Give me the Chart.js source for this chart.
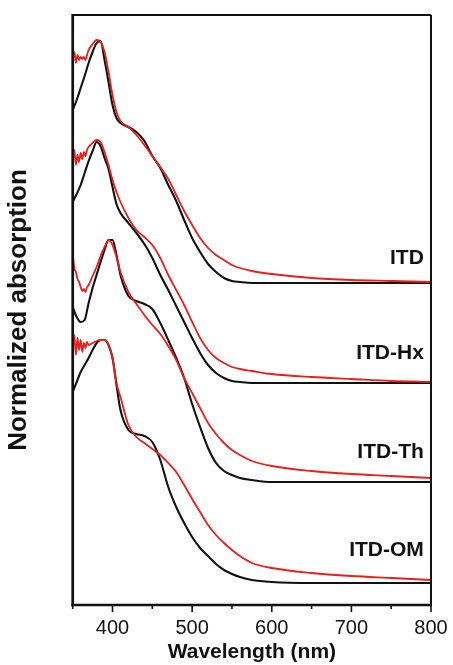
<!DOCTYPE html>
<html>
<head>
<meta charset="utf-8">
<script src="https://cdn.jsdelivr.net/npm/chart.js@4/dist/chart.umd.min.js"></script>
<style>
  html, body { margin: 0; padding: 0; background: #ffffff; }
  #wrap { width: 453px; height: 665px; }
</style>
</head>
<body>
<div id="wrap"><canvas id="c" width="453" height="665"></canvas></div>
<script>
// ---- Data ----
const seriesNames = ['ITD', 'ITD-Hx', 'ITD-Th', 'ITD-OM'];
const xTickValues = [400, 500, 600, 700, 800];

// wavelength grids (nm)
const wlBlack = [350,355,360,365,370,375,380,385,390,395,400,405,410,420,430,440,450,460,470,480,490,500,510,520,530,540,550,560,575,600,650,700,750,800];
const wlRed   = [350,352,354,356,358,360,362,364,366,368,370,375,380,385,390,395,400,405,410,420,430,440,450,460,470,480,490,500,510,520,530,540,550,560,575,600,650,700,750,800];

// normalized absorption, stacked (black = one condition, red = other)
const itdBlack = [4.95,5.05,5.17,5.29,5.42,5.53,5.62,5.64,5.45,5.23,5.00,4.87,4.82,4.78,4.73,4.64,4.49,4.37,4.20,4.04,3.85,3.67,3.53,3.41,3.33,3.27,3.24,3.23,3.22,3.22,3.22,3.22,3.22,3.22];
const itdRed   = [5.45,5.53,5.42,5.50,5.45,5.48,5.46,5.48,5.45,5.50,5.55,5.61,5.65,5.63,5.53,5.33,5.10,4.93,4.84,4.78,4.70,4.60,4.49,4.38,4.26,4.10,3.94,3.80,3.67,3.57,3.50,3.45,3.40,3.37,3.34,3.31,3.27,3.25,3.24,3.23];

const hxBlack  = [4.03,4.11,4.20,4.32,4.44,4.54,4.63,4.59,4.47,4.36,4.18,4.01,3.92,3.82,3.72,3.61,3.47,3.30,3.15,2.99,2.83,2.67,2.52,2.40,2.32,2.27,2.24,2.23,2.22,2.22,2.22,2.22,2.22,2.22];
const hxRed    = [4.47,4.55,4.40,4.50,4.43,4.52,4.46,4.53,4.49,4.55,4.58,4.62,4.65,4.63,4.53,4.40,4.25,4.13,4.03,3.87,3.75,3.68,3.60,3.47,3.30,3.15,3.00,2.83,2.67,2.55,2.47,2.42,2.38,2.36,2.34,2.31,2.28,2.26,2.24,2.23];

const thBlack  = [2.98,2.88,2.83,2.85,3.02,3.17,3.30,3.43,3.55,3.65,3.65,3.50,3.30,3.09,3.04,3.01,2.96,2.82,2.65,2.47,2.27,2.01,1.78,1.57,1.42,1.34,1.30,1.27,1.25,1.23,1.23,1.23,1.23,1.23];
const thRed    = [3.52,3.37,3.33,3.26,3.23,3.18,3.14,3.16,3.13,3.18,3.20,3.29,3.38,3.49,3.58,3.65,3.60,3.48,3.33,3.13,3.01,2.90,2.80,2.71,2.59,2.45,2.27,2.12,1.97,1.82,1.71,1.62,1.55,1.50,1.44,1.39,1.34,1.31,1.29,1.27];

const omBlack  = [2.13,2.23,2.33,2.40,2.47,2.55,2.62,2.65,2.65,2.60,2.47,2.20,1.95,1.75,1.71,1.69,1.63,1.45,1.18,0.98,0.82,0.68,0.57,0.49,0.41,0.35,0.31,0.28,0.25,0.23,0.22,0.22,0.22,0.22];
const omRed    = [2.60,2.70,2.50,2.67,2.55,2.65,2.53,2.62,2.57,2.63,2.60,2.62,2.64,2.65,2.65,2.60,2.47,2.22,2.08,1.80,1.68,1.62,1.56,1.50,1.42,1.33,1.20,1.06,0.93,0.80,0.70,0.62,0.55,0.49,0.42,0.37,0.32,0.29,0.27,0.25];

// ---- Styles ----
const BLACK = '#111111';
const RED = '#e8201c';
const FONT = "'Liberation Sans', Arial, Helvetica, sans-serif";

function pts(xs, ys) { return xs.map((x, i) => ({ x: x, y: ys[i] })); }
function ds(label, xs, ys, color, width) {
  return {
    label: label, data: pts(xs, ys), borderColor: color, backgroundColor: color,
    borderWidth: width, pointRadius: 0, fill: false, tension: 0,
    cubicInterpolationMode: 'monotone'
  };
}

// red listed first => drawn on top (Chart.js draws index 0 last)
const datasets = [
  ds(seriesNames[0] + ' (red)', wlRed, itdRed, RED, 1.8),
  ds(seriesNames[1] + ' (red)', wlRed, hxRed, RED, 1.8),
  ds(seriesNames[2] + ' (red)', wlRed, thRed, RED, 1.8),
  ds(seriesNames[3] + ' (red)', wlRed, omRed, RED, 1.8),
  ds(seriesNames[0], wlBlack, itdBlack, BLACK, 2.1),
  ds(seriesNames[1], wlBlack, hxBlack, BLACK, 2.1),
  ds(seriesNames[2], wlBlack, thBlack, BLACK, 2.1),
  ds(seriesNames[3], wlBlack, omBlack, BLACK, 2.1)
];

// plugin: frame, tick marks, curve labels
const decor = {
  id: 'decor',
  afterDatasetsDraw(chart, args, opts) {
    const ctx = chart.ctx;
    const a = chart.chartArea;
    const xs = chart.scales.x, ys = chart.scales.y;
    ctx.save();
    ctx.strokeStyle = BLACK;
    ctx.lineCap = 'butt';
    // tick marks every 50 nm, outward
    ctx.lineWidth = 1.6;
    for (let v = xs.min; v <= xs.max; v += 50) {
      const px = xs.getPixelForValue(v);
      const len = (v % 100 === 0) ? 7 : 4;
      ctx.beginPath(); ctx.moveTo(px, a.bottom); ctx.lineTo(px, a.bottom + len); ctx.stroke();
    }
    // frame
    ctx.lineWidth = 2.0;
    ctx.beginPath(); ctx.moveTo(a.left, a.top); ctx.lineTo(a.right, a.top); ctx.stroke();
    ctx.beginPath(); ctx.moveTo(a.right, a.top); ctx.lineTo(a.right, a.bottom); ctx.stroke();
    ctx.lineWidth = 2.7;
    ctx.beginPath(); ctx.moveTo(a.left, a.top - 1); ctx.lineTo(a.left, a.bottom + 1.3); ctx.stroke();
    ctx.beginPath(); ctx.moveTo(a.left - 1.3, a.bottom); ctx.lineTo(a.right + 1, a.bottom); ctx.stroke();
    // curve labels
    ctx.fillStyle = BLACK;
    ctx.font = 'bold 21px ' + FONT;
    ctx.textAlign = 'right';
    ctx.textBaseline = 'middle';
    opts.labels.forEach(l => {
      ctx.fillText(l.text, xs.getPixelForValue(l.x), ys.getPixelForValue(l.y));
    });
    ctx.restore();
  }
};

new Chart(document.getElementById('c'), {
  type: 'line',
  data: { datasets: datasets },
  plugins: [decor],
  options: {
    responsive: false,
    animation: false,
    devicePixelRatio: 1,
    layout: { padding: { top: 15, right: 22, left: 0, bottom: 0 } },
    plugins: {
      legend: { display: false },
      tooltip: { enabled: false },
      decor: {
        labels: [
          { text: seriesNames[0], x: 791, y: 3.47 },
          { text: seriesNames[1], x: 791, y: 2.52 },
          { text: seriesNames[2], x: 791, y: 1.53 },
          { text: seriesNames[3], x: 791, y: 0.55 }
        ]
      }
    },
    scales: {
      x: {
        type: 'linear', position: 'bottom', min: 350, max: 800,
        grid: { display: false, drawTicks: false },
        border: { display: false },
        afterBuildTicks: (s) => { s.ticks = xTickValues.map(v => ({ value: v })); },
        afterFit: (s) => { s.height = 60; s.paddingLeft = 0; s.paddingRight = 0; },
        ticks: {
          autoSkip: false, maxRotation: 0, padding: 11, color: BLACK,
          font: { family: FONT, size: 20 }
        },
        title: {
          display: true, text: 'Wavelength (nm)', color: BLACK,
          font: { family: FONT, size: 21, weight: 'bold' }, padding: { top: 0, bottom: 0 }
        }
      },
      y: {
        type: 'linear', min: 0, max: 5.9,
        grid: { display: false, drawTicks: false },
        border: { display: false },
        ticks: { display: false },
        afterFit: (s) => { s.width = 72.7; s.paddingTop = 0; s.paddingBottom = 0; },
        title: {
          display: true, text: 'Normalized absorption', color: BLACK,
          font: { family: FONT, size: 26, weight: 'bold' }, padding: { top: 3, bottom: 0 }
        }
      }
    }
  }
});
</script>
</body>
</html>
